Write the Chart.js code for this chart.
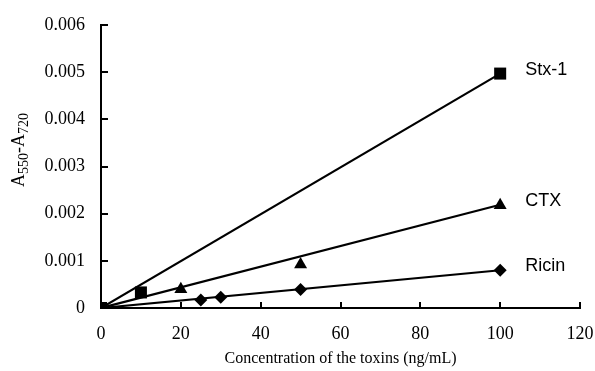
<!DOCTYPE html>
<html>
<head>
<meta charset="utf-8">
<script src="https://cdn.jsdelivr.net/npm/chart.js@4/dist/chart.umd.min.js"></script>
<style>
  body { margin: 0; background: #fff; }
  canvas { display: block; }
</style>
</head>
<body>
<canvas id="toxinChart" width="595" height="371"></canvas>
<script>
// Measured points
const stxConc = [0, 10, 100];
const stxAbs = [0, 0.00033, 0.00497];
const ctxConc = [0, 20, 50, 100];
const ctxAbs = [0, 0.0004, 0.00092, 0.00218];
const ricinConc = [0, 25, 30, 50, 100];
const ricinAbs = [0, 0.00017, 0.00023, 0.00039, 0.0008];

// Trend lines (end points)
const fitConc = [0, 100];
const stxFit = [0, 0.00497];
const ctxFit = [0, 0.00219];
const ricinFit = [0, 0.0008];

const seriesNames = ['Stx-1', 'CTX', 'Ricin'];
const xTicks = [0, 20, 40, 60, 80, 100, 120];
const yTicks = [0, 0.001, 0.002, 0.003, 0.004, 0.005, 0.006];

const pts = (xs, ys) => xs.map((x, i) => ({ x: x, y: ys[i] }));

const serif = '"Liberation Serif", "Times New Roman", serif';
const sans = '"Liberation Sans", Arial, sans-serif';

function fitLine(xs, ys) {
  return {
    type: 'line',
    data: pts(xs, ys),
    borderColor: '#000',
    borderWidth: 2.2,
    pointRadius: 0,
    fill: false,
    order: 2
  };
}

function markers(xs, ys, style, r, name) {
  return {
    type: 'scatter',
    label: name,
    data: pts(xs, ys),
    pointStyle: style,
    pointRadius: r,
    pointHoverRadius: r,
    backgroundColor: '#000',
    borderColor: '#000',
    borderWidth: 0,
    showLine: false,
    order: 1
  };
}

// ticks pointing into the plot area, end labels, y title with subscripts
const extras = {
  id: 'extras',
  afterDatasetsDraw(chart) {
    const c = chart.ctx;
    const xs = chart.scales.x, ys = chart.scales.y;
    const area = chart.chartArea;
    c.save();
    c.strokeStyle = '#000';
    c.lineWidth = 2;
    c.beginPath();
    yTicks.forEach(v => {
      const py = Math.round(ys.getPixelForValue(v));
      c.moveTo(area.left, py);
      c.lineTo(area.left + 7, py);
    });
    xTicks.forEach(v => {
      const px = Math.round(xs.getPixelForValue(v));
      c.moveTo(px, area.bottom);
      c.lineTo(px, area.bottom - 6);
    });
    c.stroke();

    // series names beside last points
    c.fillStyle = '#000';
    c.font = '18px ' + sans;
    c.textBaseline = 'middle';
    c.textAlign = 'left';
    const ends = [stxAbs[stxAbs.length - 1], ctxAbs[ctxAbs.length - 1], ricinAbs[ricinAbs.length - 1]];
    ends.forEach((v, i) => {
      c.fillText(seriesNames[i], xs.getPixelForValue(100) + 25, ys.getPixelForValue(v) - 4);
    });

    // y axis title A550-A720
    const big = '18px ' + serif, small = '14px ' + serif;
    const parts = [['A', big, 0], ['550', small, 4], ['-A', big, 0], ['720', small, 4]];
    let total = 0;
    parts.forEach(p => { c.font = p[1]; total += c.measureText(p[0]).width; });
    c.translate(24, 150);
    c.rotate(-Math.PI / 2);
    c.textAlign = 'left';
    c.textBaseline = 'alphabetic';
    let x = -total / 2;
    parts.forEach(p => {
      c.font = p[1];
      c.fillText(p[0], x, p[2]);
      x += c.measureText(p[0]).width;
    });
    c.restore();
  }
};

new Chart(document.getElementById('toxinChart'), {
  data: {
    datasets: [
      fitLine(fitConc, stxFit),
      fitLine(fitConc, ctxFit),
      fitLine(fitConc, ricinFit),
      markers(stxConc, stxAbs, 'rect', 8.5, seriesNames[0]),
      markers(ctxConc, ctxAbs, 'triangle', 7.5, seriesNames[1]),
      markers(ricinConc, ricinAbs, 'rectRot', 6.5, seriesNames[2])
    ]
  },
  plugins: [extras],
  options: {
    responsive: false,
    animation: false,
    layout: { padding: { left: 0, top: 25, right: 15, bottom: 0 } },
    plugins: {
      legend: { display: false },
      tooltip: { enabled: false }
    },
    scales: {
      x: {
        type: 'linear',
        min: 0,
        max: 120,
        afterFit: s => { s.height = 63; s.paddingRight = 0; s.paddingLeft = 0; },
        afterBuildTicks: s => { s.ticks = xTicks.map(v => ({ value: v })); },
        grid: { display: false },
        border: { display: true, color: '#000', width: 2 },
        ticks: {
          color: '#000',
          font: { family: serif, size: 18 },
          padding: 7,
          maxRotation: 0
        },
        title: {
          display: true,
          text: 'Concentration of the toxins (ng/mL)',
          color: '#000',
          font: { family: serif, size: 16 },
          padding: { top: 0, bottom: 3 }
        }
      },
      y: {
        type: 'linear',
        min: 0,
        max: 0.006,
        afterFit: s => { s.width = 101; },
        afterBuildTicks: s => { s.ticks = yTicks.map(v => ({ value: v })); },
        grid: { display: false },
        border: { display: true, color: '#000', width: 2 },
        ticks: {
          color: '#000',
          font: { family: serif, size: 18 },
          padding: 8,
          callback: v => v === 0 ? '0' : v.toFixed(3)
        }
      }
    }
  }
});
</script>
</body>
</html>
